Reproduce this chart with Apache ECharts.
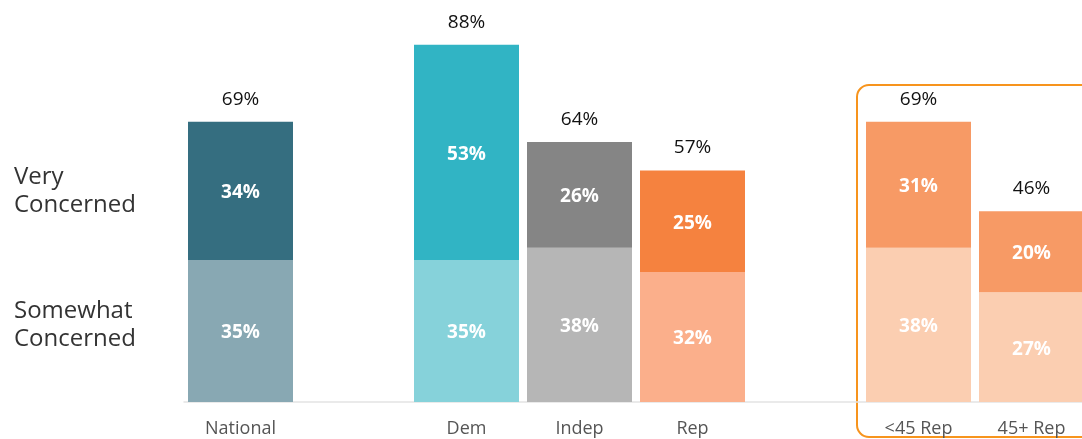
<!DOCTYPE html>
<html>
<head>
<meta charset="utf-8">
<script src="https://cdn.jsdelivr.net/npm/echarts@6/dist/echarts.min.js"></script>
<style>
html,body{margin:0;padding:0;background:#fff;}
#chart{width:1082px;height:439px;}
</style>
</head>
<body>
<div id="chart"></div>
<script>
const categories = ['National', '', 'Dem', 'Indep', 'Rep', '', '<45 Rep', '45+ Rep'];
const somewhat = [35, null, 35, 38, 32, null, 38, 27];
const very = [34, null, 53, 26, 25, null, 31, 20];
const totals = [69, null, 88, 64, 57, null, 69, 46];
const rowLabels = ['Very\nConcerned', 'Somewhat\nConcerned'];

const veryColors = ['#356e80', null, '#31b4c4', '#858585', '#f5823f', null, '#f79a65', '#f79a65'];
const somewhatColors = ['#88a8b3', null, '#86d2da', '#b6b6b6', '#fbaf8b', null, '#fbceb1', '#fbceb1'];

const FONT = '"Open Sans", "Noto Sans", sans-serif';

function items(vals, colors) {
  return vals.map((v, i) => v == null ? null : { value: v, itemStyle: { color: colors[i] } });
}

const inner = {
  show: true, position: 'inside', color: '#fff', fontWeight: 'bold',
  fontSize: 19, fontFamily: FONT, offset: [0, 2],
  formatter: p => p.value + '%'
};

const chart = echarts.init(document.getElementById('chart'));
chart.setOption({
  animation: false,
  grid: { left: 184, top: 0, width: 904, height: 402, outerBoundsMode: 'none', containLabel: false },
  xAxis: {
    type: 'category', data: categories,
    axisTick: { show: false },
    axisLine: { lineStyle: { color: '#e3e3e3', width: 1.5 } },
    axisLabel: { margin: 18, fontSize: 18, color: '#555', fontFamily: FONT, interval: 0 }
  },
  yAxis: { type: 'value', min: 0, max: 99, show: false, splitLine: { show: false } },
  series: [
    { type: 'bar', stack: 's', barWidth: 105, data: items(somewhat, somewhatColors), label: inner },
    { type: 'bar', stack: 's', barWidth: 105, data: items(very, veryColors), label: inner },
    {
      type: 'bar', stack: 's', barWidth: 105,
      data: totals.map(t => t == null ? null : 0),
      label: {
        show: true, position: 'top', distance: 13, color: '#111', fontSize: 19, fontFamily: FONT,
        formatter: p => totals[p.dataIndex] + '%'
      }
    }
  ],
  graphic: [
    { type: 'rect', z: 0, shape: { x: 857, y: 85, width: 300, height: 352, r: 12 },
      style: { fill: 'none', stroke: '#f7941d', lineWidth: 2 } },
    { type: 'text', x: 14, y: 163,
      style: { text: rowLabels[0], font: '24px ' + FONT, fill: '#333', lineHeight: 28, verticalAlign: 'top' } },
    { type: 'text', x: 14, y: 297,
      style: { text: rowLabels[1], font: '24px ' + FONT, fill: '#333', lineHeight: 28, verticalAlign: 'top' } }
  ]
});
</script>
</body>
</html>
